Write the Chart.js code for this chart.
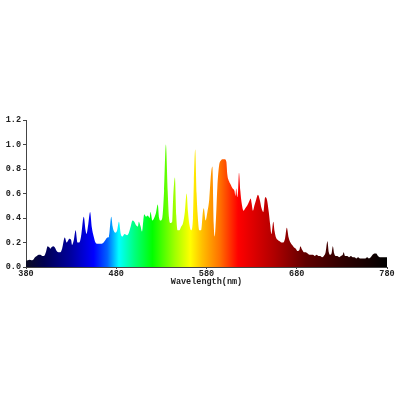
<!DOCTYPE html>
<html>
<head>
<meta charset="utf-8">
<script src="https://cdn.jsdelivr.net/npm/chart.js@4/dist/chart.umd.min.js"></script>
<style>
  html, body { margin: 0; padding: 0; background: #ffffff; }
  #wrap { width: 400px; height: 400px; }
</style>
</head>
<body>
<div id="wrap"><canvas id="c" width="400" height="400"></canvas></div>
<script>
// Wavelengths (nm) of sampled points
const wavelengths = [
  380,382,384,386,388,390,392,394,396,398,400,402,404,406,407,408,410,412,414,416,418,420,
  423,425,427,428,430,431,433,435,437,439,441,444,446,447,449,451,453,455,457,459,462,464,
  466,468,470,472,474.5,476,477,479,481,483,485,487,489,492,494,496,498,500,502,504,505,507,
  508.5,510,511,513,515,517,518,520,522,524,526,527.5,529,531,533,535,537,538.5,540,542,543,
  545,546.5,548,550,552,554,556,558,559.5,561,563,565,566,567.5,569,570,572,574,576,577,579,
  581,583,585,586.5,588,589,590.5,592,594,596,598,600,602,603,605,607,609,611,612,613,614,615,
  616,617.5,619,621,623,625,627,629,630,631.5,633,635,637,639,641,643,645,647,649,650.5,652,
  654,655.5,657,659,661,663,665,667,669,671,673,675,677,679,681,683,684,686,688,690,692,694,
  696,698,700,702,704,706,708,710,712,714,715.5,717,718.5,720,721.5,723,725,727,729,731,732,
  733.5,736,738,740,742,744,746,748,750,752,754,756,758,760,762,764,766,768,770,772,774,776,
  778,780
];
// Relative intensity at each wavelength
const intensity = [
  0.05,0.055,0.06,0.055,0.06,0.08,0.09,0.10,0.10,0.09,0.09,0.12,0.17,0.16,0.15,0.16,0.17,0.16,0.13,0.12,0.12,0.15,
  0.24,0.20,0.22,0.23,0.22,0.18,0.22,0.30,0.20,0.20,0.25,0.41,0.30,0.27,0.35,0.45,0.32,0.25,0.20,0.19,0.19,0.19,
  0.20,0.22,0.24,0.25,0.41,0.33,0.30,0.28,0.30,0.37,0.27,0.25,0.27,0.26,0.28,0.33,0.38,0.37,0.34,0.33,0.37,0.33,
  0.29,0.38,0.43,0.41,0.42,0.40,0.45,0.38,0.40,0.44,0.51,0.40,0.38,0.40,0.62,1.00,0.62,0.40,0.36,0.37,0.55,
  0.73,0.42,0.30,0.30,0.33,0.36,0.45,0.60,0.45,0.35,0.30,0.40,0.70,0.96,0.60,0.45,0.30,0.30,0.45,0.48,0.38,
  0.45,0.55,0.76,0.82,0.35,0.25,0.40,0.65,0.83,0.87,0.88,0.88,0.86,0.76,0.70,0.67,0.64,0.62,0.58,0.64,0.57,0.62,
  0.77,0.62,0.52,0.46,0.48,0.50,0.53,0.56,0.52,0.46,0.50,0.55,0.59,0.55,0.48,0.45,0.57,0.55,0.45,0.35,0.27,
  0.37,0.29,0.24,0.22,0.21,0.20,0.20,0.23,0.32,0.24,0.20,0.18,0.16,0.15,0.13,0.14,0.17,0.14,0.12,0.12,0.11,0.10,
  0.10,0.10,0.09,0.10,0.09,0.09,0.08,0.09,0.12,0.21,0.12,0.10,0.11,0.17,0.11,0.09,0.09,0.08,0.09,0.10,0.12,
  0.09,0.09,0.08,0.09,0.08,0.08,0.07,0.08,0.07,0.07,0.07,0.07,0.08,0.07,0.08,0.10,0.11,0.11,0.09,0.08,0.08,0.08,
  0.08,0.08
];
// Axis ticks
const xTicks = [380, 480, 580, 680, 780];
const yTicks = [0.0, 0.2, 0.4, 0.6, 0.8, 1.0, 1.2];
const xTitle = 'Wavelength(nm)';

// Spectrum colour stops (wavelength -> colour)
const spectrumStops = [
  [380, '#0c0c24'], [400, '#000050'], [430, '#0000a0'], [455, '#0000ff'],
  [470, '#0060ff'], [483, '#00ffff'], [500, '#00ff80'], [520, '#00ff00'],
  [545, '#a0ff00'], [562, '#ffff00'], [575, '#ffc000'], [595, '#ff7000'],
  [615, '#ff0000'], [655, '#b00000'], [690, '#600000'], [730, '#300000'],
  [780, '#000000']
];

const points = wavelengths.map((w, i) => ({ x: w, y: intensity[i] }));

function spectrumFill(context) {
  const chart = context.chart;
  const { ctx, chartArea, scales } = chart;
  if (!chartArea) return '#888';
  const lo = xTicks[0], hi = xTicks[xTicks.length - 1];
  const g = ctx.createLinearGradient(scales.x.getPixelForValue(lo), 0, scales.x.getPixelForValue(hi), 0);
  spectrumStops.forEach(([w, c]) => g.addColorStop((w - lo) / (hi - lo), c));
  return g;
}

const monoFam = "'Liberation Mono', 'DejaVu Sans Mono', monospace";
const tickFont = { family: monoFam, size: 8.5, weight: 'bold' };

new Chart(document.getElementById('c'), {
  type: 'line',
  data: {
    datasets: [{
      data: points,
      fill: 'origin',
      backgroundColor: spectrumFill,
      borderWidth: 0,
      borderColor: 'rgba(0,0,0,0)',
      pointRadius: 0,
      cubicInterpolationMode: 'monotone'
    }]
  },
  options: {
    responsive: false,
    animation: false,
    events: [],
    layout: { padding: { top: 120, right: 13, left: 0, bottom: 0 } },
    plugins: { legend: { display: false }, tooltip: { enabled: false } },
    scales: {
      x: {
        type: 'linear',
        min: xTicks[0],
        max: xTicks[xTicks.length - 1],
        afterBuildTicks: (s) => { s.ticks = xTicks.map(v => ({ value: v })); },
        afterFit: (s) => { s.height = 133; },
        ticks: { font: tickFont, color: '#222', padding: 0, maxRotation: 0, autoSkip: false },
        grid: { display: true, drawOnChartArea: false, drawTicks: true, tickLength: 2, color: '#444' },
        border: { display: true, color: '#444', width: 1 },
        title: {
          display: true, text: xTitle, color: '#222',
          font: { family: monoFam, size: 8.5, weight: 'bold' },
          padding: { top: 0, bottom: 113 }
        }
      },
      y: {
        min: yTicks[0],
        max: yTicks[yTicks.length - 1],
        afterBuildTicks: (s) => { s.ticks = yTicks.map(v => ({ value: v })); },
        afterFit: (s) => { s.width = 26; },
        ticks: { font: tickFont, color: '#222', padding: 2, callback: (v) => Number(v).toFixed(1) },
        grid: { display: true, drawOnChartArea: false, drawTicks: true, tickLength: 3, color: '#444' },
        border: { display: true, color: '#444', width: 1 }
      }
    }
  }
});
</script>
</body>
</html>
